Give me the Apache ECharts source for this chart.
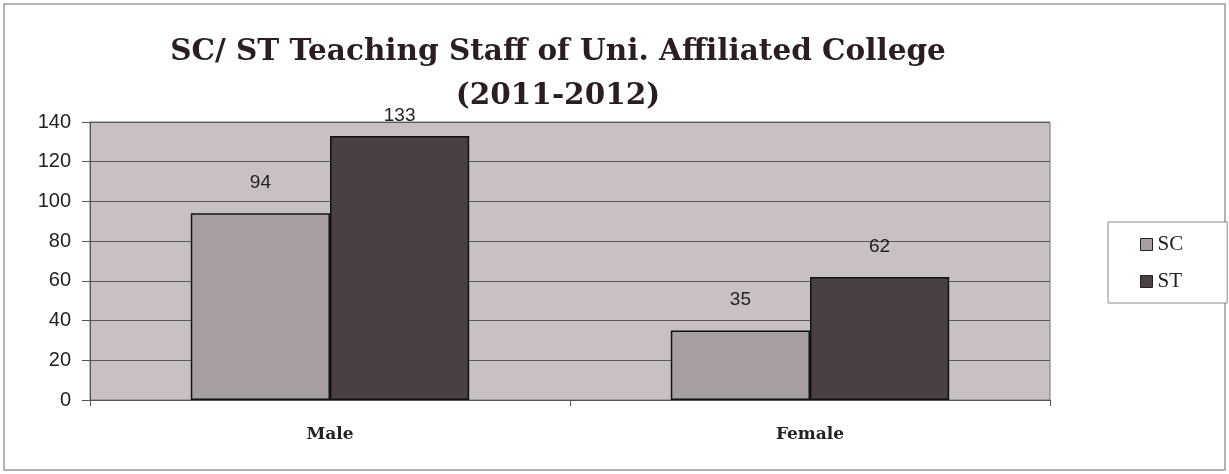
<!DOCTYPE html>
<html><head><meta charset="utf-8">
<script src="https://cdn.jsdelivr.net/npm/echarts@6/dist/echarts.min.js"></script>
<style>html,body{margin:0;padding:0;background:#fff}#c{width:1229px;height:474px}</style>
</head><body><div id="c"></div>
<script>
const categories = ['Male', 'Female'];
const scValues = [94, 35];
const stValues = [133, 62];
const seriesNames = ['SC', 'ST'];
const titleText = 'SC/ ST Teaching Staff of Uni. Affiliated College\n(2011-2012)';

const chart = echarts.init(document.getElementById('c'));
const labelStyle = {show: true, position: 'top', distance: 21, color: '#222', fontFamily: 'Liberation Sans', fontSize: 19};
// label distances tuned for layout (top-most label is squeezed under the title)
const scData = scValues.map(v => ({value: v}));
const stData = stValues.map((v, i) => i === 0 ? {value: v, label: {distance: 11}} : {value: v});
chart.setOption({
  animation: false,
  backgroundColor: '#fff',
  graphic: [{type: 'rect', shape: {x: 4, y: 4, width: 1221, height: 466}, style: {fill: 'none', stroke: '#9a9a9a', lineWidth: 1.5}, z: -1}],
  title: {text: titleText, left: 553, textAlign: 'center', top: 25,
    textStyle: {fontFamily: 'DejaVu Serif', fontWeight: 'bold', fontSize: 29.5, color: '#2a1e22', lineHeight: 44}},
  legend: {data: seriesNames, orient: 'vertical', left: 1108, top: 222, width: 120,
    padding: [12, 44, 11, 32], itemGap: 16, itemWidth: 12, itemHeight: 12, icon: 'rect',
    borderColor: '#8a8a8a', borderWidth: 1, backgroundColor: '#fff',
    itemStyle: {borderColor: '#222', borderWidth: 1},
    textStyle: {fontFamily: 'Liberation Serif', fontSize: 21, color: '#222'}},
  grid: {left: 90, right: 179, top: 122, bottom: 74, show: true, backgroundColor: '#c8c0c1', borderColor: '#777', borderWidth: 1},
  xAxis: {type: 'category', data: categories,
    axisLine: {lineStyle: {color: '#555'}}, axisTick: {show: true, length: 6, lineStyle: {color: '#555'}},
    axisLabel: {fontFamily: 'DejaVu Serif', fontWeight: 'bold', fontSize: 17, color: '#222', margin: 26}},
  yAxis: {type: 'value', min: 0, max: 140, interval: 20,
    axisLine: {show: true, lineStyle: {color: '#555'}}, axisTick: {show: true, length: 8, lineStyle: {color: '#555'}},
    axisLabel: {fontFamily: 'Liberation Sans', fontSize: 20, color: '#222', margin: 19},
    splitLine: {lineStyle: {color: '#5a5a5a', width: 1}}},
  series: [
    {name: 'SC', type: 'bar', data: scData, barGap: '0%', barCategoryGap: '42%',
      itemStyle: {color: '#a8a0a0', borderColor: '#111', borderWidth: 1.5}, label: labelStyle},
    {name: 'ST', type: 'bar', data: stData,
      itemStyle: {color: '#4a4042', borderColor: '#111', borderWidth: 1.5}, label: labelStyle}
  ]
});
</script></body></html>
